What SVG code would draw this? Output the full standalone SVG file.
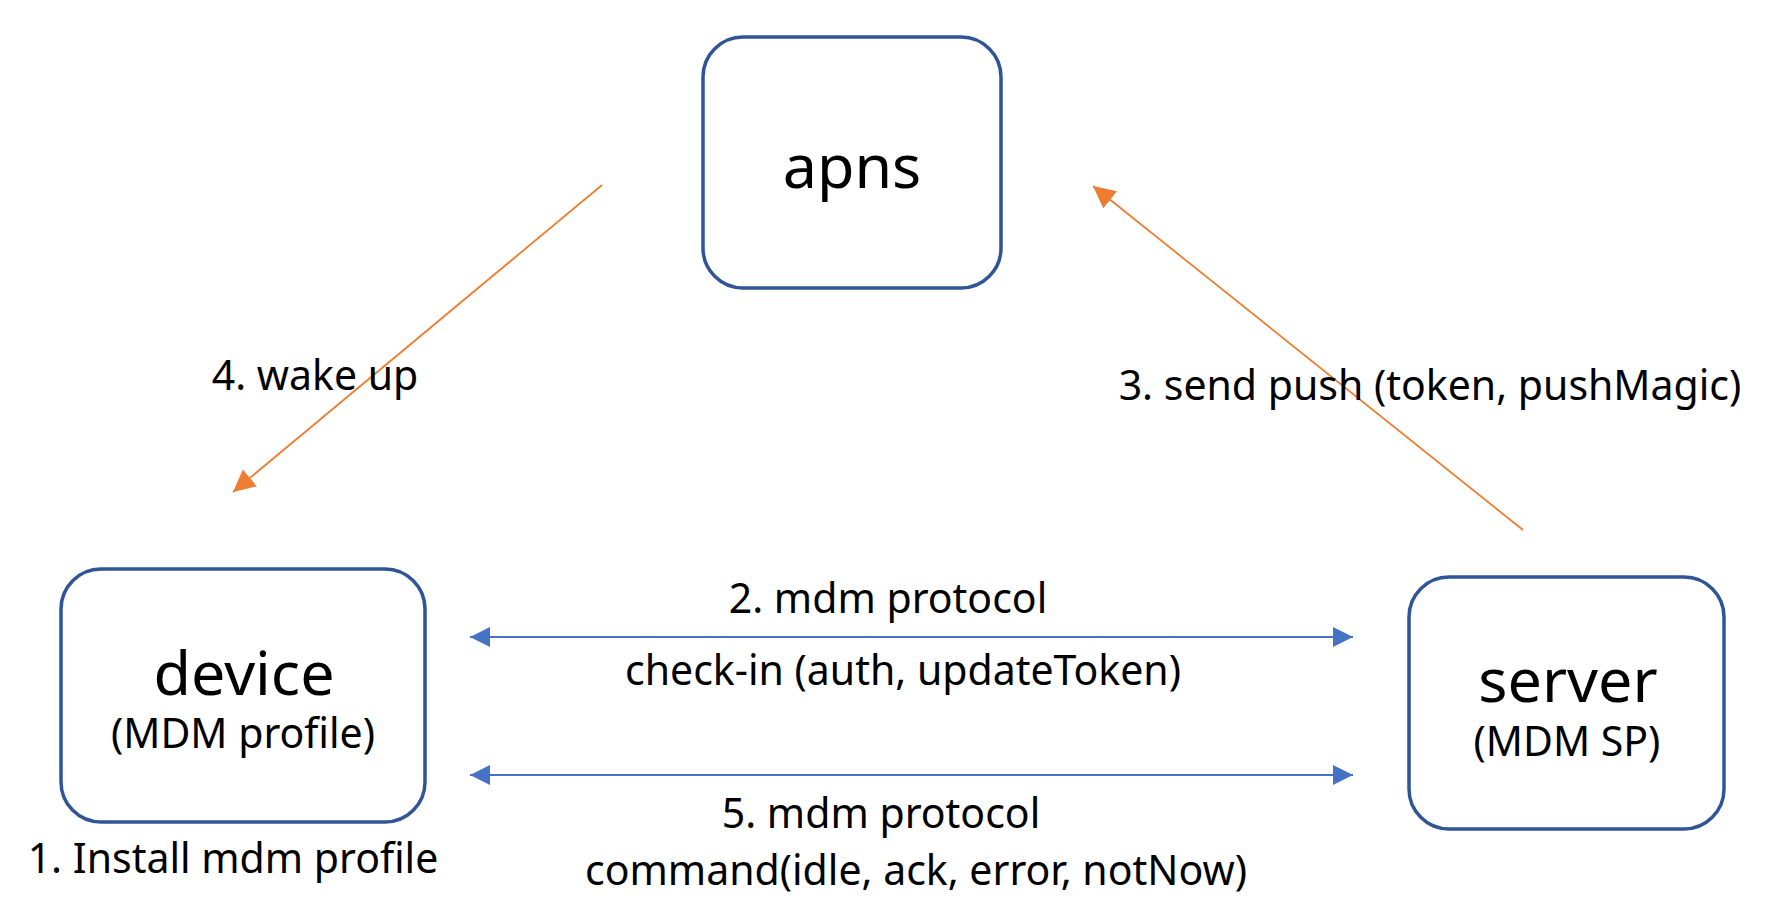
<svg xmlns="http://www.w3.org/2000/svg" width="1776" height="920" viewBox="0 0 1776 920">
<style>
.box{fill:#fff;stroke:#2F5597;stroke-width:3.5}
.t{font-family:"Noto Sans","Open Sans",sans-serif;fill:#000}
.big{font-size:61px}
.mid{font-size:41px}
.lbl{font-size:41px}
.o{stroke:#ED7D31;stroke-width:1.8;fill:none}
.b{stroke:#4472C4;stroke-width:2.2;fill:none}
</style>
<defs>
<marker id="ah-o" viewBox="0 0 10 10" refX="10" refY="5" markerWidth="22" markerHeight="22" markerUnits="userSpaceOnUse" orient="auto"><path d="M0,0L10,5L0,10z" fill="#ED7D31"/></marker>
<marker id="ah-b" viewBox="0 0 10 10" refX="10" refY="5" markerWidth="20" markerHeight="20" markerUnits="userSpaceOnUse" orient="auto-start-reverse"><path d="M0,0L10,5L0,10z" fill="#4472C4"/></marker>
</defs>
<rect width="1776" height="920" fill="#fff"/>
<g id="connectors">
<line class="o" x1="602" y1="185" x2="233" y2="492" marker-end="url(#ah-o)"/>
<line class="o" x1="1523" y1="530" x2="1093" y2="186" marker-end="url(#ah-o)"/>
<line class="b" x1="470" y1="637" x2="1353" y2="637" marker-start="url(#ah-b)" marker-end="url(#ah-b)"/>
<line class="b" x1="470" y1="775" x2="1353" y2="775" marker-start="url(#ah-b)" marker-end="url(#ah-b)"/>
</g>
<g id="apns">
<rect class="box" x="703" y="37" width="298" height="251" rx="40"/>
<text class="t big" x="852" y="188" text-anchor="middle">apns</text>
</g>
<g id="device">
<rect class="box" x="61" y="569" width="364" height="253" rx="40"/>
<text class="t big" x="244" y="695" text-anchor="middle">device</text>
<text class="t mid" x="243" y="748" text-anchor="middle">(MDM profile)</text>
</g>
<g id="server">
<rect class="box" x="1409" y="577" width="315" height="252" rx="40"/>
<text class="t big" x="1568" y="702" text-anchor="middle">server</text>
<text class="t mid" x="1567" y="756" text-anchor="middle">(MDM SP)</text>
</g>
<g id="labels">
<text class="t lbl" x="233" y="873" text-anchor="middle">1. Install mdm profile</text>
<text class="t lbl" x="315" y="390" text-anchor="middle">4. wake up</text>
<text class="t lbl" x="1430" y="400" text-anchor="middle">3. send push (token, pushMagic)</text>
<text class="t lbl" x="888" y="613" text-anchor="middle">2. mdm protocol</text>
<text class="t lbl" x="903" y="685" text-anchor="middle">check-in (auth, updateToken)</text>
<text class="t lbl" x="881" y="828" text-anchor="middle">5. mdm protocol</text>
<text class="t lbl" x="916" y="885" text-anchor="middle">command(idle, ack, error, notNow)</text>
</g>
</svg>
